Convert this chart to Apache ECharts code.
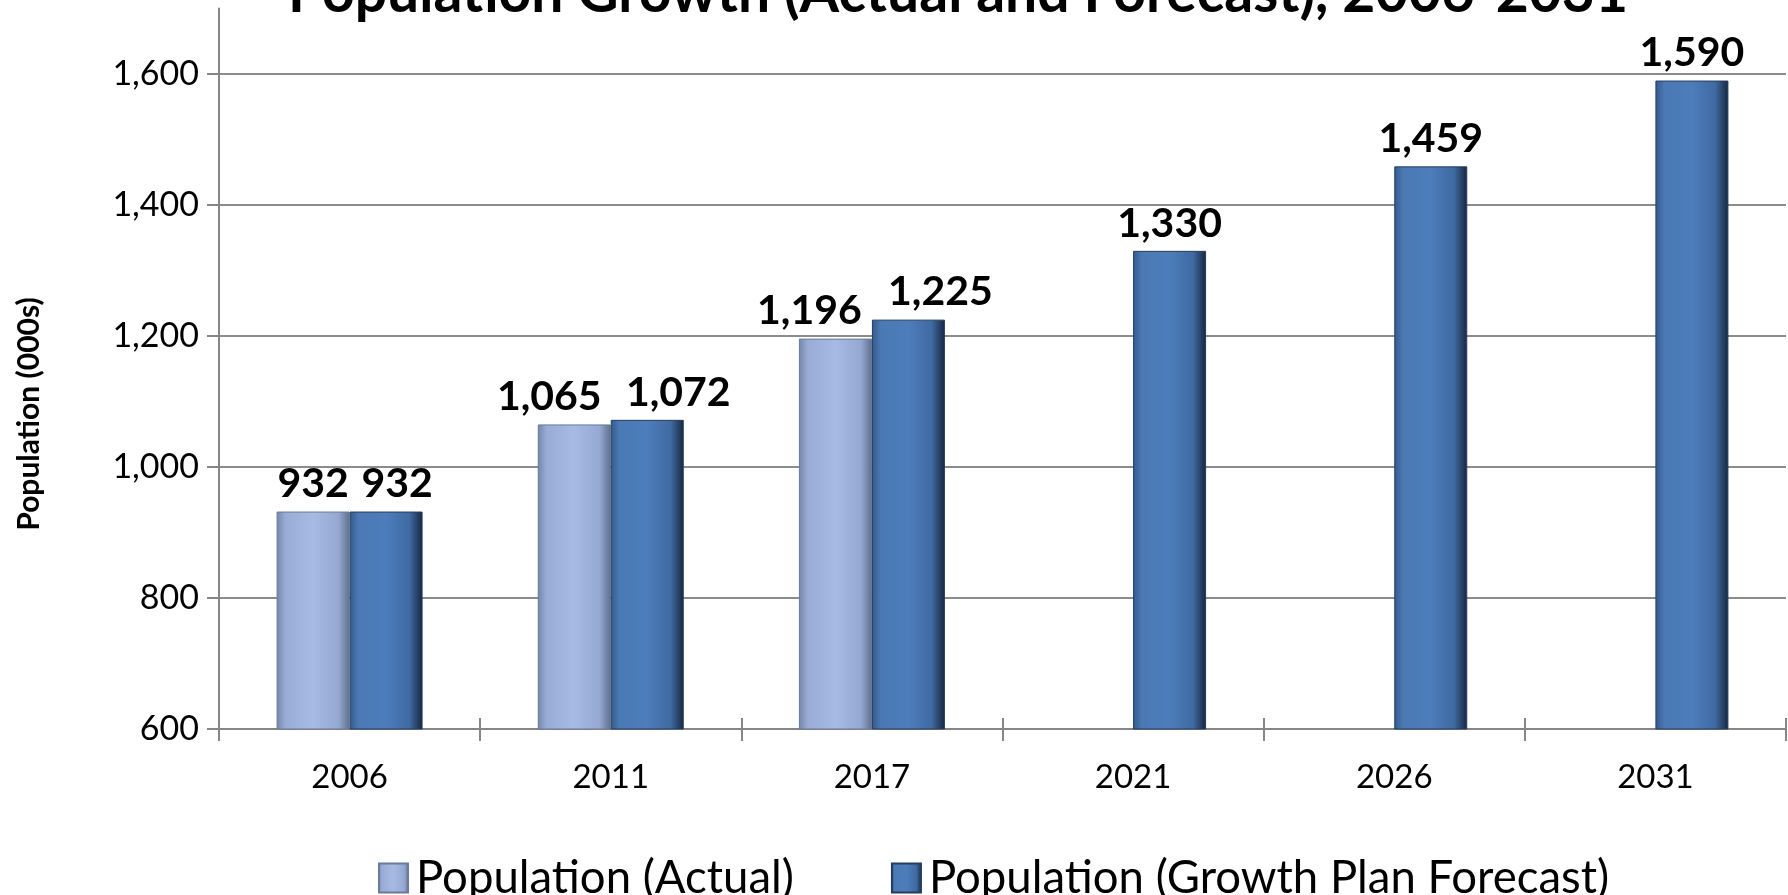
<!DOCTYPE html>
<html>
<head>
<meta charset="utf-8">
<script src="https://cdn.jsdelivr.net/npm/echarts@6/dist/echarts.min.js"></script>
<style>
html,body{margin:0;padding:0;background:#fff;}
#chart{width:1788px;height:895px;}
</style>
</head>
<body>
<div id="chart"></div>
<script>
const categories = ['2006', '2011', '2017', '2021', '2026', '2031'];
const actualValues = [932, 1065, 1196, null, null, null];
const forecastValues = [932, 1072, 1225, 1330, 1459, 1590];
const seriesNames = ['Population (Actual)', 'Population (Growth Plan Forecast)'];
const titleText = 'Population Growth (Actual and Forecast), 2006-2031';
const yAxisTitle = 'Population (000s)';

// label nudges (styling, not data)
const actualLabelShift = [0, -25, -26, 0, 0, 0];
const forecastLabelShift = [11, 31, 32, 0, 0, 0];

const lightGrad = new echarts.graphic.LinearGradient(0, 0, 1, 0, [
  {offset: 0, color: '#7485a8'},
  {offset: 0.12, color: '#98acd6'},
  {offset: 0.5, color: '#a6bae3'},
  {offset: 0.85, color: '#94a8d2'},
  {offset: 1, color: '#5f6e8c'}
]);
const darkGrad = new echarts.graphic.LinearGradient(0, 0, 1, 0, [
  {offset: 0, color: '#35598a'},
  {offset: 0.12, color: '#4a79b4'},
  {offset: 0.5, color: '#4d7dba'},
  {offset: 0.82, color: '#3f6aa2'},
  {offset: 1, color: '#17263f'}
]);

const fmt = v => Number(v).toLocaleString('en-US');
const labelFont = {fontFamily: 'Lato', fontWeight: 'bold', fontSize: 41, color: '#000'};

function buildData(values, shifts) {
  return values.map((v, i) => v == null ? '-' : {
    value: v,
    label: {offset: [shifts[i], 0]}
  });
}

const chart = echarts.init(document.getElementById('chart'));
chart.setOption({
  animation: false,
  backgroundColor: '#fff',
  grid: {left: 219, right: 2, top: 8.5, bottom: 166, containLabel: false},
  legend: {
    left: 373, top: 850,
    itemWidth: 29, itemHeight: 29, itemGap: 97,
    icon: 'rect',
    textStyle: {fontFamily: 'Lato', fontSize: 45.5, color: '#000', padding: [0, 0, 0, 3]},
    data: seriesNames
  },
  graphic: [
    {type: 'text', x: 958, y: 22, style: {text: titleText, textAlign: 'center', textVerticalAlign: 'bottom',
      font: 'bold 57px Lato', fill: '#000'}},
    {type: 'text', x: 29, y: 414, rotation: Math.PI / 2, style: {text: yAxisTitle, textAlign: 'center', textVerticalAlign: 'middle',
      font: 'bold 30px Lato', fill: '#000'}}
  ],
  xAxis: [{
    type: 'category', data: categories,
    axisLine: {lineStyle: {color: '#868686', width: 2}},
    axisTick: {show: true, length: 12, lineStyle: {color: '#868686', width: 2}},
    axisLabel: {fontFamily: 'Lato', fontSize: 33, color: '#000', margin: 32}
  }, {
    type: 'category', data: categories, position: 'bottom',
    axisLine: {show: false},
    axisTick: {show: true, inside: true, length: 11, lineStyle: {color: '#868686', width: 2}},
    axisLabel: {show: false}
  }],
  yAxis: {
    type: 'value', min: 600, max: 1700, interval: 200,
    axisLine: {show: true, lineStyle: {color: '#868686', width: 2}},
    axisTick: {show: true, length: 12, lineStyle: {color: '#868686', width: 2}},
    axisLabel: {fontFamily: 'Lato', fontSize: 34, color: '#000', margin: 20, showMaxLabel: false, formatter: fmt},
    splitLine: {show: true, showMaxLine: false, lineStyle: {color: '#8c8c8c', width: 2}}
  },
  series: [{
    name: seriesNames[0], type: 'bar', xAxisIndex: 0,
    barWidth: 73, barGap: '0%',
    itemStyle: {color: lightGrad, borderColor: '#6a7a98', borderWidth: 1},
    label: Object.assign({show: true, position: 'top', distance: 7, formatter: p => fmt(p.value)}, labelFont),
    data: buildData(actualValues, actualLabelShift)
  }, {
    name: seriesNames[1], type: 'bar', xAxisIndex: 0,
    barWidth: 73, barGap: '0%',
    itemStyle: {color: darkGrad, borderColor: '#253c5e', borderWidth: 1},
    label: Object.assign({show: true, position: 'top', distance: 7, formatter: p => fmt(p.value)}, labelFont),
    data: buildData(forecastValues, forecastLabelShift)
  }]
});
</script>
</body>
</html>
